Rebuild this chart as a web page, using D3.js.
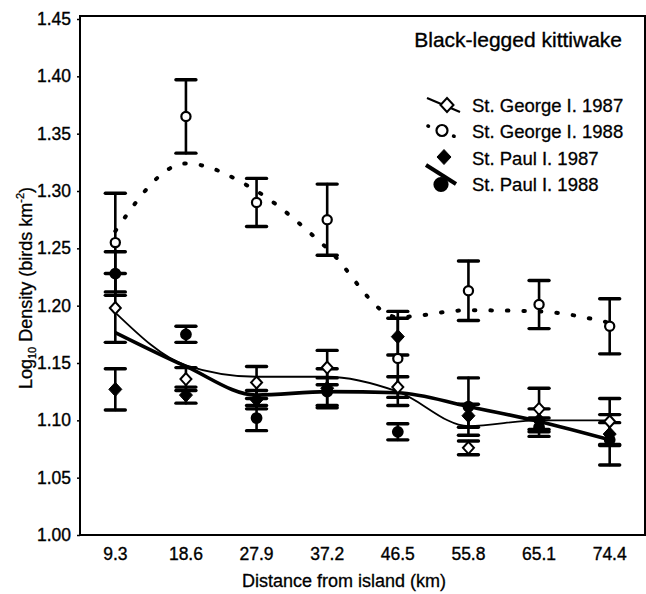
<!DOCTYPE html>
<html><head><meta charset="utf-8">
<script src="https://cdn.jsdelivr.net/npm/d3@7"></script>
<style>
body{margin:0;background:#fff}
text{font-family:"Liberation Sans",Arial,sans-serif;fill:#000}
</style>
</head><body>
<svg id="chart" width="646" height="594"></svg>
<script>
// Distance classes (km)
const categories = ["9.3","18.6","27.9","37.2","46.5","55.8","65.1","74.4"];
const yTicks = [1.00,1.05,1.10,1.15,1.20,1.25,1.30,1.35,1.40,1.45];

// St. George I. 1987 (open diamond)
const george87 = [1.198,1.136,1.133,1.146,1.129,1.076,1.110,1.099];
const george87Err = [0.030,0.010,0.014,0.015,0.009,0.006,0.018,0.020];
// St. George I. 1988 (open circle)
const george88 = [1.255,1.365,1.290,1.275,1.154,1.213,1.201,1.182];
const george88Err = [0.043,0.032,0.021,0.031,0.041,0.026,0.021,0.024];
// St. Paul I. 1987 (filled diamond)
const paul87 = [1.127,1.122,1.118,1.128,1.173,1.104,1.100,1.088];
const paul87Err = [0.018,0.007,0.008,0.017,0.016,0.010,0.010,0.010];
// St. Paul I. 1988 (filled circle)
const paul88 = [1.228,1.175,1.102,1.125,1.090,1.112,1.094,1.083];
const paul88Err = [0.019,0.007,0.011,0.012,0.007,0.025,0.008,0.022];

// Smoothed trends
const george87Fit = [1.194,1.148,1.138,1.138,1.125,1.095,1.100,1.100];
const george88Fit = [1.265,1.324,1.300,1.250,1.190,1.196,1.195,1.185];
const paulFit     = [1.1765,1.147,1.122,1.125,1.124,1.112,1.099,1.083];

const legendLabels = ["St. George I. 1987","St. George I. 1988","St. Paul I. 1987","St. Paul I. 1988"];

const svg = d3.select("#chart");
const plotL = 80, plotR = 645, plotT = 19, plotB = 535;

const x = d3.scaleBand().domain(categories).range([plotL, plotR]).padding(0);
const cx = c => x(c) + x.bandwidth()/2;
const y = d3.scaleLinear().domain([1.0, 1.45]).range([plotB, plotT]);

// frame
svg.append("rect").attr("x", plotL).attr("y", plotT - 3).attr("width", plotR - plotL)
  .attr("height", plotB - plotT + 3).attr("fill", "none").attr("stroke", "#000").attr("stroke-width", 2);

// y axis
const yAxis = svg.append("g").attr("transform", `translate(${plotL},0)`)
  .call(d3.axisLeft(y).tickValues(yTicks).tickFormat(d3.format(".2f")).tickSize(3).tickPadding(6));
yAxis.select(".domain").remove();
yAxis.selectAll("line").attr("stroke-width", 1.5);
yAxis.selectAll("text").attr("font-size", 17.5).attr("font-family", "Liberation Sans, Arial")
  .attr("stroke", "#000").attr("stroke-width", 0.35);

// x axis
const xAxis = svg.append("g").attr("transform", `translate(0,${plotB})`)
  .call(d3.axisBottom(x).tickSize(0).tickPadding(13));
xAxis.select(".domain").remove();
xAxis.selectAll("text").attr("font-size", 17.5).attr("font-family", "Liberation Sans, Arial")
  .attr("stroke", "#000").attr("stroke-width", 0.35);

// axis titles
svg.append("text").attr("x", 344).attr("y", 587).attr("text-anchor", "middle")
  .attr("font-size", 18).attr("stroke", "#000").attr("stroke-width", 0.3)
  .text("Distance from island (km)");

const yt = svg.append("text").attr("transform", "translate(32,288) rotate(-90)")
  .attr("text-anchor", "middle").attr("font-size", 18).attr("stroke", "#000").attr("stroke-width", 0.3);
yt.append("tspan").text("Log");
yt.append("tspan").attr("font-size", 11).attr("dy", 4).text("10");
yt.append("tspan").attr("dy", -4).text(" Density (birds km");
yt.append("tspan").attr("font-size", 11).attr("dy", -8).text("-2");
yt.append("tspan").attr("dy", 8).text(")");

// chart title
svg.append("text").attr("x", 622).attr("y", 47).attr("text-anchor", "end")
  .attr("font-size", 21).attr("stroke", "#000").attr("stroke-width", 0.35)
  .text("Black-legged kittiwake");

// trend lines
const line = d3.line().x((d, i) => cx(categories[i])).y(d => y(d)).curve(d3.curveMonotoneX);
svg.append("path").attr("d", line(george88Fit)).attr("fill", "none").attr("stroke", "#000")
  .attr("stroke-width", 4).attr("stroke-linecap", "round").attr("stroke-dasharray", "1.5 15");
svg.append("path").attr("d", line(george87Fit)).attr("fill", "none").attr("stroke", "#000")
  .attr("stroke-width", 1.8);
svg.append("path").attr("d", line(paulFit)).attr("fill", "none").attr("stroke", "#000")
  .attr("stroke-width", 3.6);

// error bars
const series = [
  {v: george87, e: george87Err, shape: "diamond", fill: "#fff"},
  {v: george88, e: george88Err, shape: "circle", fill: "#fff"},
  {v: paul87, e: paul87Err, shape: "diamond", fill: "#000"},
  {v: paul88, e: paul88Err, shape: "circle", fill: "#000"}
];
const capW = 10;
const eb = svg.append("g").attr("stroke", "#000").attr("stroke-linecap", "round");
series.forEach(s => {
  s.v.forEach((v, i) => {
    const px = cx(categories[i]);
    eb.append("line").attr("x1", px).attr("x2", px).attr("y1", y(v - s.e[i])).attr("y2", y(v + s.e[i]))
      .attr("stroke-width", 2.6);
    [v - s.e[i], v + s.e[i]].forEach(w => {
      eb.append("line").attr("x1", px - capW).attr("x2", px + capW).attr("y1", y(w)).attr("y2", y(w))
        .attr("stroke-width", 3.4);
    });
  });
});

// markers
const diamond = (w, h) => `M0,${-h}L${w},0L0,${h}L${-w},0Z`;
const mk = svg.append("g");
function marker(g, shape, fill, px, py, big) {
  if (shape === "circle") {
    g.append("circle").attr("cx", px).attr("cy", py).attr("r", fill === "#000" ? (big ? 6.5 : 4.8) : (big ? 5.5 : 4.6))
      .attr("fill", fill).attr("stroke", "#000").attr("stroke-width", 2.2);
  } else {
    g.append("path").attr("transform", `translate(${px},${py})`)
      .attr("d", fill === "#000" ? diamond(big ? 7 : 6.5, big ? 7.5 : 7) : diamond(big ? 6.5 : 5.5, big ? 7 : 6))
      .attr("fill", fill).attr("stroke", "#000").attr("stroke-width", fill === "#000" ? 1 : 2);
  }
}
[1, 0, 2, 3].forEach(k => {
  const s = series[k];
  s.v.forEach((v, i) => marker(mk, s.shape, s.fill, cx(categories[i]), y(v), false));
});

// legend
const lg = svg.append("g");
const rowY = [105, 131.5, 158, 184.5];
lg.append("line").attr("x1", 427).attr("y1", 98).attr("x2", 460).attr("y2", 112)
  .attr("stroke", "#000").attr("stroke-width", 2.2);
marker(lg, "diamond", "#fff", 447, rowY[0], true);
lg.append("line").attr("x1", 428).attr("y1", 126).attr("x2", 456).attr("y2", 137)
  .attr("stroke", "#000").attr("stroke-width", 3.6).attr("stroke-linecap", "round")
  .attr("stroke-dasharray", "0.5 27");
marker(lg, "circle", "#fff", 442, 130.5, true);
lg.append("line").attr("x1", 426).attr("y1", 165).attr("x2", 456).attr("y2", 184)
  .attr("stroke", "#000").attr("stroke-width", 4);
marker(lg, "diamond", "#000", 444, rowY[2] - 1, true);
marker(lg, "circle", "#000", 441, rowY[3], true);
legendLabels.forEach((t, i) => {
  lg.append("text").attr("x", 472).attr("y", rowY[i] + 6.5).attr("font-size", 18.5)
    .attr("stroke", "#000").attr("stroke-width", 0.3).text(t);
});
</script>
</body></html>
